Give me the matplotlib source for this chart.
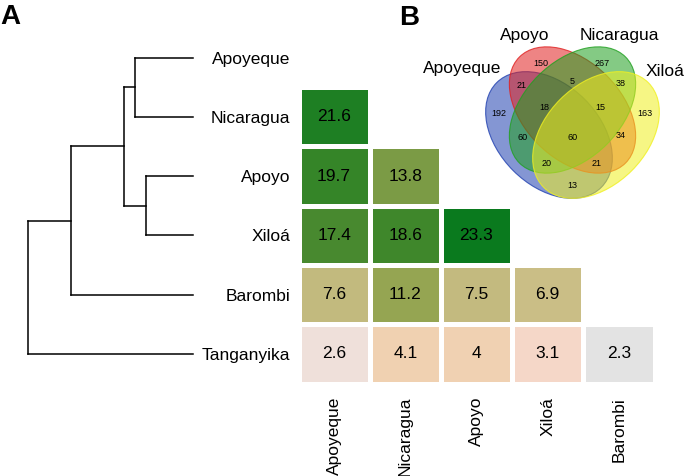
import matplotlib.pyplot as plt
import numpy as np
from matplotlib.colors import LinearSegmentedColormap, to_rgba
from matplotlib.patches import Ellipse

plt.rcParams['font.family'] = ['Liberation Sans', 'DejaVu Sans']

#lakes, in tree order (top to bottom)
lakes = ['Apoyeque', 'Nicaragua', 'Apoyo', 'Xiloá', 'Barombi', 'Tanganyika']
col_lakes = ['Apoyeque', 'Nicaragua', 'Apoyo', 'Xiloá', 'Barombi']

#pairwise values (lower triangle, row lake vs column lake)
row_nicaragua = [21.6]
row_apoyo = [19.7, 13.8]
row_xiloa = [17.4, 18.6, 23.3]
row_barombi = [7.6, 11.2, 7.5, 6.9]
row_tanganyika = [2.6, 4.1, 4, 3.1, 2.3]
tri_rows = [[], row_nicaragua, row_apoyo, row_xiloa, row_barombi, row_tanganyika]

#tree merges: (child, child, height); leaves are 0..5, new nodes numbered from 6
merges = [(0, 1, 0.35), (2, 3, 0.287), (6, 7, 0.418), (8, 4, 0.74), (9, 5, 1.0)]

#venn counts
venn_sets = ['Apoyeque', 'Apoyo', 'Nicaragua', 'Xiloá']
venn_regions = ['A', 'B', 'C', 'D', 'AB', 'BC', 'CD', 'ABC', 'BCD',
                'AC', 'ABCD', 'BD', 'ACD', 'ABD', 'AD']
venn_counts = [192, 150, 267, 163, 21, 5, 38, 18, 15, 60, 60, 34, 20, 21, 13]

W, H = 685, 476
fig = plt.figure(figsize=(W / 100, H / 100), dpi=100)

def px_axes(x0, y0, x1, y1):
    return fig.add_axes([x0 / W, 1 - y1 / H, (x1 - x0) / W, (y1 - y0) / H])

#--- heatmap ---
mat = np.full((len(lakes), len(col_lakes)), np.nan)
for i, r in enumerate(tri_rows):
    mat[i, :len(r)] = r

cmap = LinearSegmentedColormap.from_list('lakes', [
    (0.0, '#e3e3e3'), ((2.6 - 2.3) / 21, '#f1dfd8'), ((3.1 - 2.3) / 21, '#f5d6c6'),
    ((4.0 - 2.3) / 21, '#f0d1b1'), ((7.0 - 2.3) / 21, '#c9bd85'),
    ((11.2 - 2.3) / 21, '#95a552'), ((13.8 - 2.3) / 21, '#7b9b45'),
    ((17.4 - 2.3) / 21, '#48892f'), ((19.7 - 2.3) / 21, '#368528'), (1.0, '#0a7a1e')])

ax = px_axes(298.5, 27.85, 654.5, 383.65)
ax.pcolormesh(np.arange(-0.5, 5), np.arange(-0.5, 6), np.ma.masked_invalid(mat),
              cmap=cmap, vmin=2.3, vmax=23.3, edgecolors='white', linewidth=2.2)
for i, r in enumerate(tri_rows):
    for j, v in enumerate(r):
        ax.text(j, i, f'{v:g}', ha='center', va='center', fontsize=12.5)
ax.set_xlim(-0.5, 4.5)
ax.set_ylim(5.5, -0.5)
ax.set_yticks(range(len(lakes)))
ax.set_yticklabels(lakes, fontsize=12.5)
ax.set_xticks(range(len(col_lakes)))
ax.set_xticklabels(col_lakes, fontsize=12.5, rotation=90)
ax.tick_params(axis='y', length=0, pad=6)
ax.tick_params(axis='x', length=0, pad=9.6)
for s in ax.spines.values():
    s.set_visible(False)

#--- dendrogram ---
dax = px_axes(27.7, 27.85, 193.3, 383.65)
pos = {i: (0.0, float(i)) for i in range(len(lakes))}
for k, (a, b, h) in enumerate(merges):
    (xa, ya), (xb, yb) = pos[a], pos[b]
    dax.plot([xa, h], [ya, ya], color='black', lw=1.1, clip_on=False)
    dax.plot([xb, h], [yb, yb], color='black', lw=1.1, clip_on=False)
    dax.plot([h, h], [ya, yb], color='black', lw=1.1, clip_on=False)
    pos[len(lakes) + k] = (h, (ya + yb) / 2)
dax.set_xlim(1.0, 0.0)
dax.set_ylim(5.5, -0.5)
dax.axis('off')

#--- venn ---
vax = px_axes(420, 0, 685, 215)
vax.set_xlim(420, 685)
vax.set_ylim(215, 0)
vax.axis('off')
#(centre, width, height, angle, colour) in blue, red, green, yellow order
shapes = [((549, 135), 148, 101, 45, '#2040b0'), ((572.5, 110), 150, 97, 45, '#e02020'),
          ((572.5, 110), 150, 97, -45, '#20a020'), ((596, 135), 148, 101, -45, '#f0f020')]
for (c, w, h, ang, col) in shapes:
    vax.add_patch(Ellipse(c, w, h, angle=ang, facecolor=to_rgba(col, 0.55),
                          edgecolor=to_rgba(col, 0.8), lw=0.8))
region_xy = {'A': (499, 113), 'B': (541, 63), 'C': (602, 63), 'D': (645, 113),
             'AB': (522, 86), 'BC': (572.5, 81), 'CD': (621, 84), 'ABC': (544, 107),
             'BCD': (600, 108), 'AC': (523, 137), 'ABCD': (572.5, 137), 'BD': (621, 136),
             'ACD': (547, 163), 'ABD': (597, 163), 'AD': (572.5, 185)}
for reg, n in zip(venn_regions, venn_counts):
    x, y = region_xy[reg]
    vax.text(x, y, str(n), ha='center', va='center', fontsize=6.5)
label_xy = [(462.5, 72.7), (525, 40), (619, 40), (665.5, 76)]
for name, (x, y) in zip(venn_sets, label_xy):
    vax.text(x, y, name, ha='center', va='baseline', fontsize=12.5)

fig.text(0 / W, 1 - 4 / H, 'A', fontsize=20, fontweight='bold', va='top', ha='left')
fig.text(399 / W, 1 - 5 / H, 'B', fontsize=20, fontweight='bold', va='top', ha='left')

fig.savefig('out.png', dpi=100)
